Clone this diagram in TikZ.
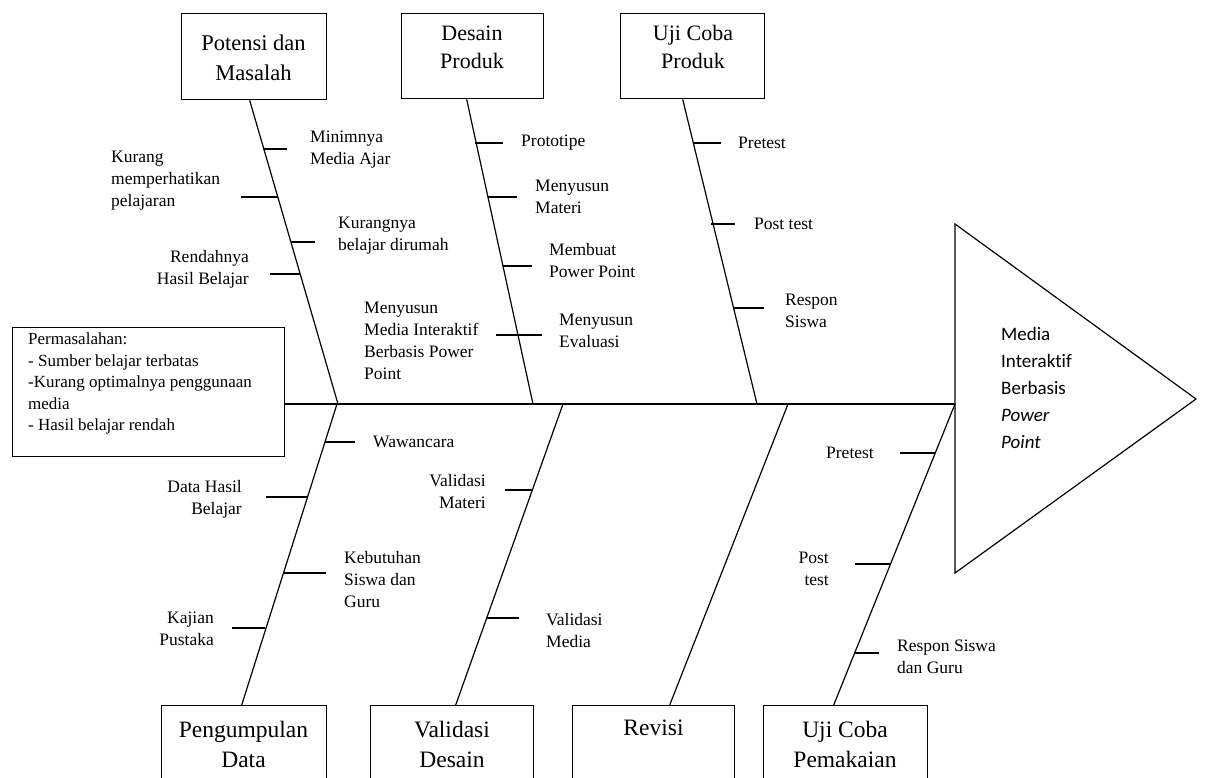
\documentclass[tikz,border=0pt]{standalone}
\usepackage{fontspec}
\setmainfont{Liberation Serif}
\newfontfamily\calfont[Ligatures=NoCommon]{Carlito}
\begin{document}
\begin{tikzpicture}[x=1pt,y=-1pt,
  box/.style={draw,line width=1.4pt,inner sep=0pt,anchor=north west},
  bone/.style={line width=1.2pt},
  tickl/.style={line width=1.2pt},
  lbl/.style={font=\fontsize{17.5}{22}\selectfont,inner sep=0pt,align=left,anchor=west},
  lblr/.style={font=\fontsize{17.5}{22}\selectfont,inner sep=0pt,align=right,anchor=east},
  ttl/.style={font=\fontsize{22}{28}\selectfont,inner sep=0pt,align=center},
  ttlb/.style={font=\fontsize{23.5}{30}\selectfont,inner sep=0pt,align=center}]
\useasboundingbox (0,0) rectangle (1205,778);
\clip (0,0) rectangle (1205,778);

% top boxes
\node[box,minimum width=145pt,minimum height=86pt] (potensi) at (181,13) {};
\node[font=\fontsize{22.5}{30}\selectfont,inner sep=0pt,align=center] (tpotensi) at (253.5,58) {Potensi dan\\Masalah};
\node[box,minimum width=142pt,minimum height=85pt] (desain) at (401,13) {};
\node[ttl] (tdesain) at (472,47) {Desain\\Produk};
\node[box,minimum width=144pt,minimum height=85pt] (ujiprod) at (620,13) {};
\node[ttl] (tujiprod) at (693,47) {Uji Coba\\Produk};

% bottom boxes
\node[box,minimum width=165pt,minimum height=100pt] (kumpul) at (161,705) {};
\node[ttlb] (tkumpul) at (243.5,744) {Pengumpulan\\Data};
\node[box,minimum width=163pt,minimum height=100pt] (validasi) at (370,705) {};
\node[ttlb] (tvalidasi) at (452,744) {Validasi\\Desain};
\node[box,minimum width=162pt,minimum height=100pt] (revisi) at (572,705) {};
\node[ttlb] (trevisi) at (653.5,728) {Revisi};
\node[box,minimum width=164pt,minimum height=100pt] (ujipakai) at (763,705) {};
\node[ttlb] (tujipakai) at (845,744) {Uji Coba\\Pemakaian};

% problem box
\node[box,minimum width=272pt,minimum height=129pt] (permbox) at (12,327) {};
\node[font=\fontsize{17}{21.5}\selectfont,inner sep=0pt,align=left,anchor=north west] (permtext) at (28,333)
  {Permasalahan:\\- Sumber belajar terbatas\\-Kurang optimalnya penggunaan\\media\\- Hasil belajar rendah};

% spine, head
\coordinate (spL) at (284,404);
\coordinate (tip) at (955,404);
\coordinate (tA) at (955,224);
\coordinate (tB) at (1196,399);
\coordinate (tC) at (955,573);
\coordinate (u1) at (338,404);
\coordinate (u2) at (533,404);
\coordinate (u3) at (757,404);
\coordinate (d1) at (337,404);
\coordinate (d2) at (563,404);
\coordinate (d3) at (788,404);
\draw[bone] (permbox.east |- spL) -- (tip);
\draw[bone] (tA) -- (tB) -- (tC) -- cycle;
\node[font=\calfont\fontsize{19}{27}\selectfont,inner sep=0pt,align=left,anchor=west] (tri) at (1001,388)
  {Media\\Interaktif\\Berbasis\\\textit{Power}\\\textit{Point}};

% bones
\draw[bone] ([xshift=-4.5pt]potensi.south) -- (u1);
\draw[bone] ([xshift=-6pt]desain.south) -- (u2);
\draw[bone] ([xshift=-10pt]ujiprod.south) -- (u3);
\draw[bone] (d1) -- ([xshift=-2.5pt]kumpul.north);
\draw[bone] (d2) -- ([xshift=3.5pt]validasi.north);
\draw[bone] (d3) -- ([xshift=16pt]revisi.north);
\draw[bone] (tip) -- ([xshift=-12pt]ujipakai.north);

% ticks upper
\draw[tickl] (263,149) -- (287,149);
\draw[tickl] (241,197) -- (278,197);
\draw[tickl] (291,242) -- (315,242);
\draw[tickl] (270,274) -- (300,274);
\draw[tickl] (475,143) -- (503,143);
\draw[tickl] (488,197) -- (517,197);
\draw[tickl] (503,266) -- (532,266);
\draw[tickl] (496,335) -- (542,335);
\draw[tickl] (693,143) -- (721,143);
\draw[tickl] (711,224) -- (735,224);
\draw[tickl] (734,308) -- (764,308);
% ticks lower
\draw[tickl] (325,442) -- (355,442);
\draw[tickl] (266,497) -- (307,497);
\draw[tickl] (283,573) -- (326,573);
\draw[tickl] (232,628) -- (265,628);
\draw[tickl] (505,490) -- (532,490);
\draw[tickl] (486,618) -- (519,618);
\draw[tickl] (900,453) -- (935,453);
\draw[tickl] (855,564) -- (890,564);
\draw[tickl] (854,653) -- (879,653);

% labels upper
\node[lbl] (l1) at (310,150) {Minimnya\\Media Ajar};
\node[lbl] (l2) at (111,181) {Kurang\\memperhatikan\\pelajaran};
\node[lbl] (l3) at (338,236) {Kurangnya\\belajar dirumah};
\node[lblr] (l4) at (249,269) {Rendahnya\\Hasil Belajar};
\node[lbl] (l5) at (364,341) {Menyusun\\Media Interaktif\\Berbasis Power\\Point};
\node[lbl] (l6) at (521,143) {Prototipe};
\node[lbl] (l7) at (535,197) {Menyusun\\Materi};
\node[lbl] (l8) at (549,261) {Membuat\\Power Point};
\node[lbl] (l9) at (559,331) {Menyusun\\Evaluasi};
\node[lbl] (l10) at (738,143) {Pretest};
\node[lbl] (l11) at (754,224) {Post test};
\node[lbl] (l12) at (785,311) {Respon\\Siswa};
% labels lower
\node[lbl] (l13) at (373,442) {Wawancara};
\node[lblr] (l14) at (242,499) {Data Hasil\\Belajar};
\node[lbl] (l15) at (344,580) {Kebutuhan\\Siswa dan\\Guru};
\node[lblr] (l16) at (214,629) {Kajian\\Pustaka};
\node[lblr] (l17) at (486,492) {Validasi\\Materi};
\node[lbl] (l18) at (546,631) {Validasi\\Media};
\node[lblr] (l19) at (874,453) {Pretest};
\node[lblr] (l20) at (829,569) {Post\\test};
\node[lbl] (l21) at (897,657) {Respon Siswa\\dan Guru};
\end{tikzpicture}
\end{document}
